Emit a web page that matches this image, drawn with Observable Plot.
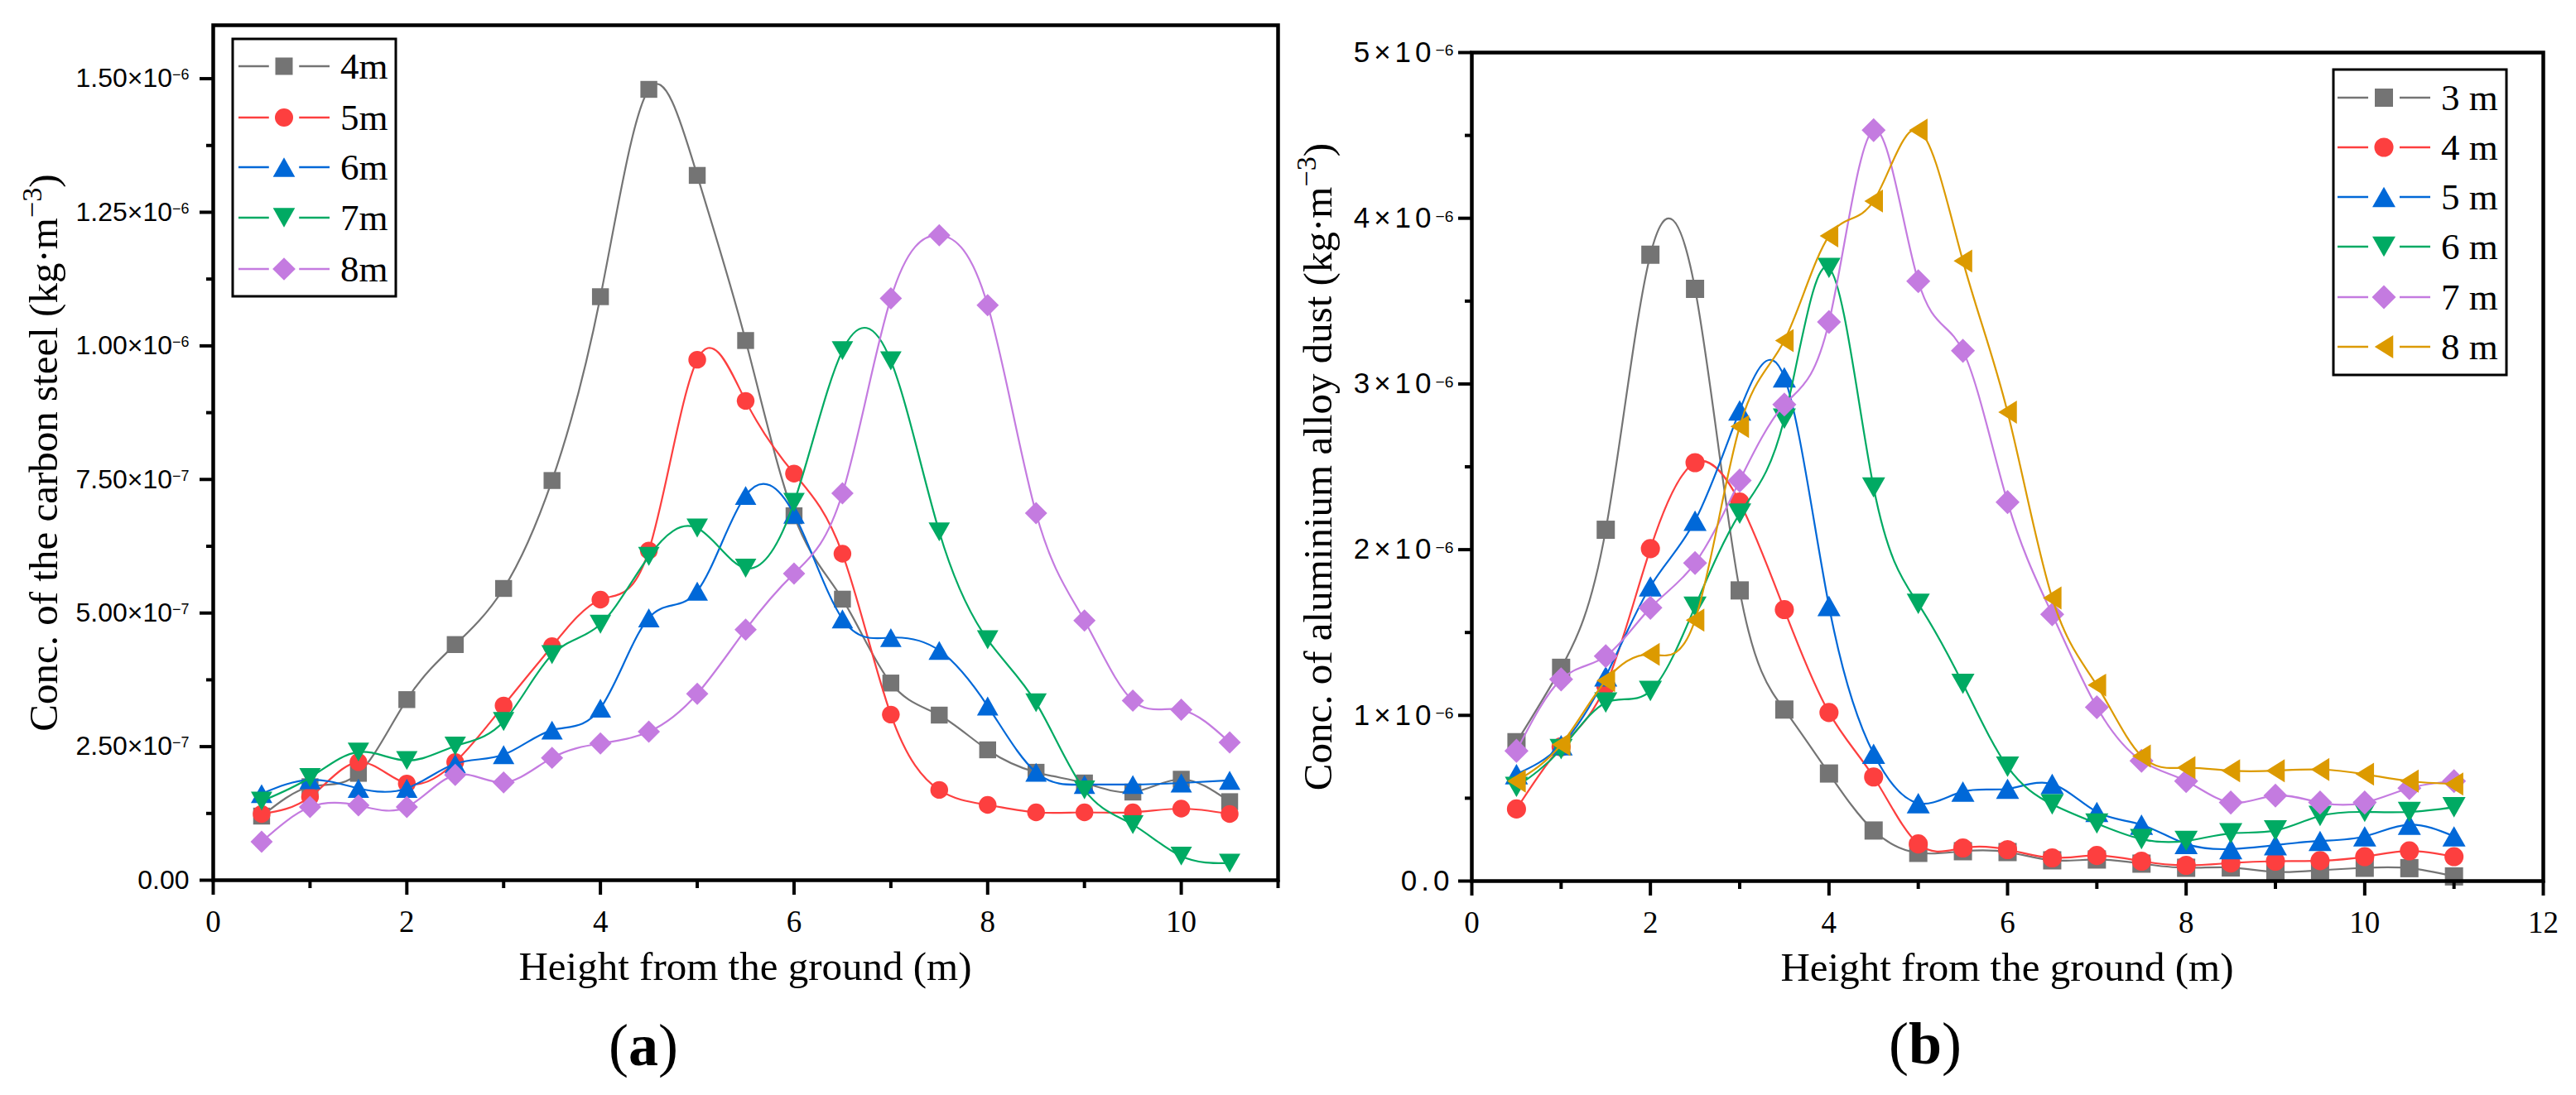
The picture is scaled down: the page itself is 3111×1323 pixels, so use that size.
<!DOCTYPE html>
<html>
<head>
<meta charset="utf-8">
<script src="https://cdn.jsdelivr.net/npm/d3@7"></script>
<script src="https://cdn.jsdelivr.net/npm/@observablehq/plot@0.6"></script>
<style>
  html, body { margin: 0; padding: 0; background: #fff; }
  #wrap { position: relative; width: 3111px; height: 1323px; overflow: hidden; background: #fff; }
  #wrap > svg { position: absolute; top: 0; }
</style>
</head>
<body>
<div id="wrap"></div>
<script>
// ---------------- DATA ----------------
// Panel (a): carbon steel, values in units of 1e-7 kg·m^-3
const heightsA = [0.5, 1, 1.5, 2, 2.5, 3, 3.5, 4, 4.5, 5, 5.5, 6, 6.5, 7, 7.5, 8, 8.5, 9, 9.5, 10, 10.5];
const seriesA = ["4m", "5m", "6m", "7m", "8m"];
const a4m = [1.20, 1.75, 2.00, 3.38, 4.41, 5.46, 7.48, 10.92, 14.80, 13.19, 10.10, 6.82, 5.26, 3.69, 3.09, 2.44, 2.02, 1.82, 1.65, 1.89, 1.47];
const a5m = [1.24, 1.56, 2.21, 1.81, 2.21, 3.27, 4.38, 5.25, 6.17, 9.74, 8.97, 7.61, 6.11, 3.10, 1.69, 1.41, 1.27, 1.27, 1.27, 1.34, 1.24];
const a6m = [1.62, 1.88, 1.72, 1.72, 2.18, 2.35, 2.81, 3.22, 4.91, 5.41, 7.20, 6.85, 4.89, 4.54, 4.30, 3.26, 2.02, 1.79, 1.79, 1.82, 1.87];
const a7m = [1.48, 1.92, 2.40, 2.24, 2.51, 2.97, 4.22, 4.79, 6.06, 6.59, 5.84, 7.07, 9.91, 9.72, 6.52, 4.50, 3.32, 1.69, 1.04, 0.45, 0.32];
const a8m = [0.72, 1.37, 1.40, 1.37, 1.97, 1.83, 2.29, 2.56, 2.78, 3.49, 4.69, 5.74, 7.24, 10.89, 12.07, 10.76, 6.87, 4.86, 3.36, 3.19, 2.58];
const valuesA = [a4m, a5m, a6m, a7m, a8m];

// Panel (b): aluminium alloy dust, values in units of 1e-6 kg·m^-3
const heightsB = [0.5, 1, 1.5, 2, 2.5, 3, 3.5, 4, 4.5, 5, 5.5, 6, 6.5, 7, 7.5, 8, 8.5, 9, 9.5, 10, 10.5, 11];
const seriesB = ["3 m", "4 m", "5 m", "6 m", "7 m", "8 m"];
const b3m = [0.838, 1.287, 2.12, 3.78, 3.574, 1.754, 1.035, 0.649, 0.305, 0.17, 0.18, 0.175, 0.125, 0.13, 0.105, 0.08, 0.082, 0.055, 0.065, 0.08, 0.078, 0.028];
const b4m = [0.435, 0.81, 1.18, 2.006, 2.525, 2.287, 1.638, 1.017, 0.628, 0.224, 0.20, 0.19, 0.14, 0.154, 0.12, 0.095, 0.109, 0.12, 0.123, 0.147, 0.182, 0.147];
const b5m = [0.645, 0.82, 1.235, 1.778, 2.175, 2.84, 3.04, 1.66, 0.768, 0.47, 0.54, 0.557, 0.586, 0.417, 0.34, 0.224, 0.193, 0.217, 0.242, 0.27, 0.34, 0.27];
const b6m = [0.568, 0.796, 1.077, 1.147, 1.656, 2.217, 2.79, 3.70, 2.375, 1.673, 1.19, 0.69, 0.463, 0.347, 0.253, 0.242, 0.288, 0.305, 0.393, 0.417, 0.417, 0.445];
const b7m = [0.786, 1.217, 1.357, 1.649, 1.919, 2.417, 2.876, 3.374, 4.532, 3.62, 3.20, 2.287, 1.61, 1.049, 0.726, 0.603, 0.474, 0.516, 0.474, 0.474, 0.561, 0.603];
const b8m = [0.603, 0.824, 1.21, 1.368, 1.575, 2.743, 3.262, 3.893, 4.104, 4.532, 3.742, 2.83, 1.708, 1.182, 0.754, 0.684, 0.666, 0.666, 0.673, 0.645, 0.603, 0.586];
const valuesB = [b3m, b4m, b5m, b6m, b7m, b8m];

// Ticks
const xTicksA = [0, 2, 4, 6, 8, 10];
const xMinorA = [1, 3, 5, 7, 9, 11];
const yTicksA = [0, 2.5, 5, 7.5, 10, 12.5, 15];
const yTickLabelsA = ["0.00", "2.50×10|−7", "5.00×10|−7", "7.50×10|−7", "1.00×10|−6", "1.25×10|−6", "1.50×10|−6"];
const yMinorA = [1.25, 3.75, 6.25, 8.75, 11.25, 13.75];

const xTicksB = [0, 2, 4, 6, 8, 10, 12];
const xMinorB = [1, 3, 5, 7, 9, 11];
const yTicksB = [0, 1, 2, 3, 4, 5];
const yTickLabelsB = ["0.0", "1×10|−6", "2×10|−6", "3×10|−6", "4×10|−6", "5×10|−6"];
const yMinorB = [0.5, 1.5, 2.5, 3.5, 4.5];

// Text
const xTitle = "Height from the ground (m)";
const yTitleA = "Conc. of the carbon steel (kg·m";
const yTitleB = "Conc. of aluminium alloy dust (kg·m";

// ---------------- STYLE ----------------
const colorsA = ["#747474", "#fd3f3f", "#0068d8", "#00aa63", "#c47be0"];
const colorsB = ["#747474", "#fd3f3f", "#0068d8", "#00aa63", "#c47be0", "#dc9a00"];
const symNamesA = ["square", "circle", "up", "down", "diamond"];
const symNamesB = ["square", "circle", "up", "down", "diamond", "left"];
const SERIF = "'Liberation Serif', 'Times New Roman', serif";
const SANS = "'Liberation Sans', Arial, sans-serif";

const rOf = (size) => Math.sqrt(size / Math.PI);
const SYM = {
  square: { draw(c, s) { const r = rOf(s); c.moveTo(-r, -r); c.lineTo(r, -r); c.lineTo(r, r); c.lineTo(-r, r); c.closePath(); } },
  circle: { draw(c, s) { const r = rOf(s) * 1.05; c.moveTo(r, 0); c.arc(0, 0, r, 0, 2 * Math.PI); c.closePath(); } },
  up: { draw(c, s) { const r = rOf(s), w = 1.27 * r, h = 1.12 * r; c.moveTo(0, -h); c.lineTo(w, h); c.lineTo(-w, h); c.closePath(); } },
  down: { draw(c, s) { const r = rOf(s), w = 1.27 * r, h = 1.12 * r; c.moveTo(0, h); c.lineTo(w, -h); c.lineTo(-w, -h); c.closePath(); } },
  diamond: { draw(c, s) { const r = rOf(s) * 1.32; c.moveTo(0, -r); c.lineTo(r, 0); c.lineTo(0, r); c.lineTo(-r, 0); c.closePath(); } },
  left: { draw(c, s) { const r = rOf(s), w = 1.02 * r, h = 1.27 * r; c.moveTo(-w, 0); c.lineTo(w, -h); c.lineTo(w, h); c.closePath(); } }
};

// ---------------- BUILD ----------------
function seriesMarks(heights, values, colors, syms, r) {
  const marks = [];
  values.forEach((vals, k) => {
    const rows = heights.map((h, i) => ({ h, v: vals[i] }));
    marks.push(Plot.line(rows, { x: "h", y: "v", stroke: colors[k], strokeWidth: 2.2, curve: "natural" }));
    marks.push(Plot.dot(rows, { x: "h", y: "v", r, fill: colors[k], stroke: "none", symbol: SYM[syms[k]] }));
  });
  return marks;
}

function addSup(svg, ratio, dyEm, spacing) {
  d3.select(svg).selectAll('g[aria-label="y-axis tick label"] text').each(function () {
    const t = this.textContent;
    if (spacing) this.style.letterSpacing = spacing + "px";
    if (!t.includes("|")) return;
    const [main, sup] = t.split("|");
    const sel = d3.select(this);
    sel.text(null);
    sel.append("tspan").text(main);
    sel.append("tspan").attr("font-size", ratio + "em").attr("dy", dyEm + "em").style("letter-spacing", "0px").text(sup);
  });
}

const plotA = Plot.plot({
  width: 1560, height: 1323,
  marginLeft: 257, marginRight: 17, marginTop: 30, marginBottom: 260,
  x: { domain: [0, 11] },
  y: { domain: [0, 16] },
  style: { background: "transparent", overflow: "visible" },
  marks: [
    ...seriesMarks(heightsA, valuesA, colorsA, symNamesA, 10.2),
    Plot.axisX({ ticks: xTicksA, tickSize: 18, tickPadding: 18, strokeWidth: 4, fontSize: 37, fontFamily: SERIF, label: null, tickFormat: (d) => String(d) }),
    Plot.axisX({ ticks: xMinorA, tickSize: 10, strokeWidth: 4, fill: "none", label: null }),
    Plot.axisY({ ticks: yTicksA, tickSize: 16, tickPadding: 13, strokeWidth: 4, fontSize: 32, fontFamily: SANS, label: null,
      tickFormat: (d) => yTickLabelsA[yTicksA.indexOf(d)] }),
    Plot.axisY({ ticks: yMinorA, tickSize: 8, strokeWidth: 4, fill: "none", label: null }),
    Plot.frame({ stroke: "black", strokeWidth: 4.5 })
  ]
});
plotA.style.left = "0px";
addSup(plotA, 0.56, -0.5, 0);

const plotB = Plot.plot({
  width: 1551, height: 1323,
  marginLeft: 217, marginRight: 40, marginTop: 63, marginBottom: 259,
  x: { domain: [0, 12] },
  y: { domain: [0, 5] },
  style: { background: "transparent", overflow: "visible" },
  marks: [
    ...seriesMarks(heightsB, valuesB, colorsB, symNamesB, 11),
    Plot.axisX({ ticks: xTicksB, tickSize: 18, tickPadding: 18, strokeWidth: 4, fontSize: 37, fontFamily: SERIF, label: null, tickFormat: (d) => String(d) }),
    Plot.axisX({ ticks: xMinorB, tickSize: 10, strokeWidth: 4, fill: "none", label: null }),
    Plot.axisY({ ticks: yTicksB, tickSize: 16, tickPadding: 6, strokeWidth: 4, fontSize: 35, fontFamily: SANS, label: null,
      tickFormat: (d) => yTickLabelsB[yTicksB.indexOf(d)] }),
    Plot.axisY({ ticks: yMinorB, tickSize: 8, strokeWidth: 4, fill: "none", label: null }),
    Plot.frame({ stroke: "black", strokeWidth: 4.5 })
  ]
});
plotB.style.left = "1560px";
addSup(plotB, 0.55, -0.38, 5);

const wrap = document.getElementById("wrap");
wrap.appendChild(plotA);
wrap.appendChild(plotB);

// ---------------- OVERLAY: titles, panel letters, legends ----------------
const ov = d3.select(wrap).append("svg")
  .attr("width", 3111).attr("height", 1323)
  .style("left", "0px").style("pointer-events", "none");

function yTitle(x, y, txt) {
  const t = ov.append("text").attr("transform", `translate(${x},${y}) rotate(-90)`)
    .attr("text-anchor", "middle").attr("font-family", SERIF).attr("font-size", 49).attr("fill", "#000");
  t.append("tspan").text(txt);
  t.append("tspan").attr("font-size", "0.7em").attr("dy", "-0.55em").text("−3");
  t.append("tspan").attr("dy", "0.385em").text(")");
}
yTitle(69, 547, yTitleA);
yTitle(1608, 564, yTitleB);

ov.append("text").attr("x", 900).attr("y", 1184).attr("text-anchor", "middle")
  .attr("font-family", SERIF).attr("font-size", 49).text(xTitle);
ov.append("text").attr("x", 2424).attr("y", 1185).attr("text-anchor", "middle")
  .attr("font-family", SERIF).attr("font-size", 49).text(xTitle);

function panelLetter(x, y, letter) {
  const t = ov.append("text").attr("x", x).attr("y", y).attr("text-anchor", "middle")
    .attr("font-family", SERIF).attr("font-size", 72);
  t.append("tspan").text("(");
  t.append("tspan").attr("font-weight", "bold").text(letter);
  t.append("tspan").text(")");
}
panelLetter(777, 1287, "a");
panelLetter(2325, 1285, "b");

function legend(box, rows, colors, syms, r, lineX0, lineX1, markX, textX, fontSize) {
  ov.append("rect").attr("x", box[0]).attr("y", box[1]).attr("width", box[2]).attr("height", box[3])
    .attr("fill", "#fff").attr("stroke", "#000").attr("stroke-width", 3);
  rows.forEach((row, k) => {
    const y = row.y;
    const gap = r * 1.45 + 3;
    ov.append("line").attr("x1", lineX0).attr("x2", markX - gap).attr("y1", y).attr("y2", y)
      .attr("stroke", colors[k]).attr("stroke-width", 2.4);
    ov.append("line").attr("x1", markX + gap).attr("x2", lineX1).attr("y1", y).attr("y2", y)
      .attr("stroke", colors[k]).attr("stroke-width", 2.4);
    const p = d3.path();
    SYM[syms[k]].draw(p, r * r * Math.PI);
    ov.append("path").attr("d", p.toString()).attr("transform", `translate(${markX},${y})`).attr("fill", colors[k]);
    ov.append("text").attr("x", textX).attr("y", y).attr("dy", "0.34em")
      .attr("font-family", SERIF).attr("font-size", fontSize).text(row.label);
  });
}
legend([281, 47, 197, 311], seriesA.map((s, k) => ({ label: s, y: [80, 142, 202, 263, 325][k] })),
  colorsA, symNamesA, 10.5, 288, 398, 343, 411, 45);
legend([2818, 84, 209, 369], seriesB.map((s, k) => ({ label: s, y: [118, 178, 238, 298, 359, 419][k] })),
  colorsB, symNamesB, 11, 2823, 2935, 2879, 2948, 45);
</script>
</body>
</html>
